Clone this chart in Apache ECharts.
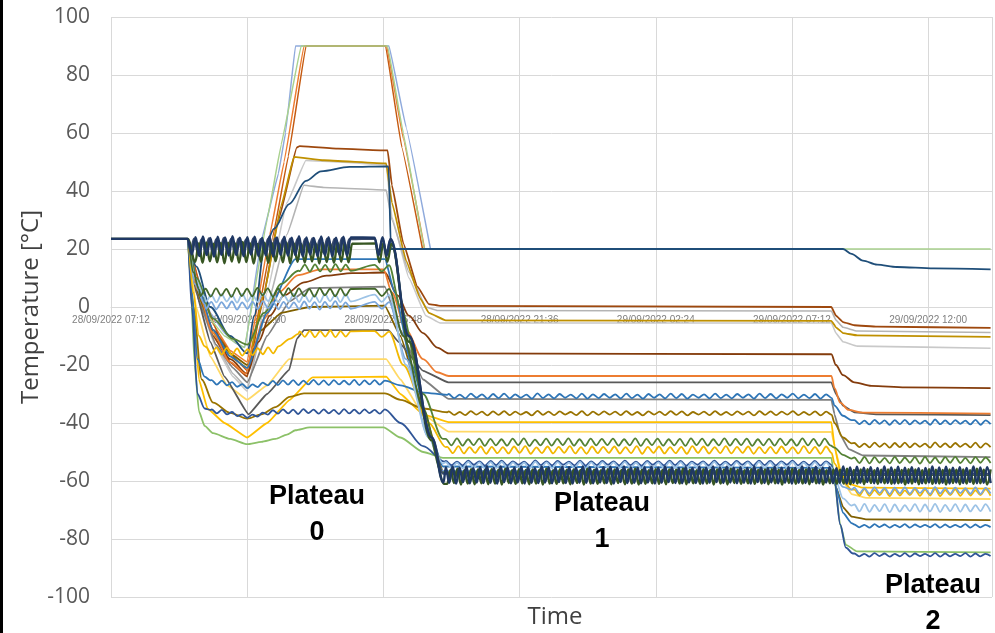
<!DOCTYPE html>
<html><head><meta charset="utf-8">
<script src="https://cdn.jsdelivr.net/npm/echarts/dist/echarts.min.js"></script>
<style>html,body{margin:0;padding:0;background:#fff}#c{width:995px;height:633px}</style>
</head><body><div id="c"></div>
<script>
// ---- axis labels ----
const xTickLabels = ['28/09/2022 07:12','28/09/2022 12:00','28/09/2022 16:48','28/09/2022 21:36','29/09/2022 02:24','29/09/2022 07:12','29/09/2022 12:00'];
const tickStepHours = 4.8;
const xAxisTitle = 'Time';
const yAxisTitle = 'Temperature [°C]';
const plateauLabels = ['Plateau\n0','Plateau\n1','Plateau\n2'];

// ---- oscillation / wiggle value lists (typed readings) ----
const navyOscP0a = [18.2,24.1,17.6,24.3,17.9,23.8,17.4,24.2,18.0,24.0,17.7,24.4,17.9,23.9,17.5,24.1,18.1,24.2,17.6,23.8,17.8,24.3,17.4,24.0,18.0,24.2,17.7,23.9,17.9,24.4,17.5,24.0,18.1,23.8,17.6,24.3,17.8,24.1,17.5,23.9,18.0,24.2,17.7,24.0];
const navyOscP0b = [23.9,17.8,24.1,17.6,23.5];
const navyOscP12 = [
-55.3,-60.6,-55.0,-60.9,-55.4,-60.4,-55.1,-60.8,-55.6,-60.5,
-55.2,-60.7,-54.9,-60.6,-55.5,-60.9,-55.0,-60.4,-55.3,-60.8,
-55.4,-60.5,-55.1,-60.9,-55.2,-60.6,-55.6,-60.7,-55.0,-60.5,
-55.3,-60.8,-55.5,-60.4,-55.1,-60.7,-55.2,-60.9,-55.4,-60.6,
-55.0,-60.6,-55.3,-60.8,-55.6,-60.5,-55.2,-60.7,-55.1,-60.9,
-55.4,-60.4,-55.0,-60.7,-55.3,-60.6,-55.5,-60.8,-55.2,-60.5,
-55.1,-60.9,-55.4,-60.6,-55.0,-60.4,-55.3,-60.7,-55.6,-60.8,
-55.2,-60.5,-55.5,-60.7,-55.1,-60.9,-55.4,-60.6,-55.0,-60.4,
-55.3,-60.7,-55.1,-60.5,-55.4,-60.8,-55.2,-60.6,-55.5,-60.9,
-55.0,-60.4,-55.3,-60.7,-55.6,-60.5,-55.1,-60.8,-55.4,-60.6,
-55.2,-60.9,-55.5,-60.6,-55.0,-60.7,-55.3,-60.4,-55.1,-60.8,
-55.4,-60.5,-55.2,-60.8,-55.6,-60.6,-55.0,-60.9,-55.3,-60.7,
-55.1,-60.6,-55.4,-60.4,-55.2,-60.8,-55.5,-60.5,-55.0,-60.7,
-55.3,-60.9,-55.1,-60.6,-55.4,-60.7,-55.2,-60.4,-55.6,-60.8,
-55.5,-60.5,-55.0,-60.8,-55.3,-60.6,-55.1,-60.9,-55.4,-60.5,
-55.2,-60.7,-55.5,-60.4,-55.0,-60.8,-55.3,-60.6,-55.2,-60.7];
const dgOscP0a = [15.6,22.0,15.2,22.3,15.8,21.8,15.4,22.1,15.1,22.2,15.7,21.9,15.3,22.4,15.5,22.0,15.0,21.7,15.6,22.2,15.2,22.1,15.8,21.9,15.4,22.3,15.1,22.0,15.6,21.8,15.3,22.2,15.7,22.0,15.0,22.1,15.5,21.9,15.2,22.3,15.6,22.0,15.4,21.8];
const dgOscP0b = [21.9,15.4,22.1,15.6,21.7];
const dgOscP12 = [
-61.0,-56.1,-60.7,-55.8,-61.2,-56.3,-60.9,-55.9,-61.1,-56.0,
-60.8,-56.2,-61.1,-55.9,-60.9,-56.1,-61.2,-55.8,-60.7,-56.3,
-61.0,-55.9,-60.8,-56.2,-61.1,-56.0,-60.9,-56.1,-61.2,-55.8,
-60.9,-56.3,-61.0,-55.9,-60.8,-56.1,-61.1,-56.0,-60.7,-56.2,
-61.2,-55.8,-60.9,-56.1,-61.0,-56.3,-60.8,-55.9,-61.1,-56.0,
-60.7,-56.2,-61.1,-56.0,-60.9,-55.8,-61.2,-56.1,-61.0,-56.3,
-60.8,-55.9,-61.0,-56.2,-61.1,-56.0,-60.7,-56.1,-60.9,-55.8,
-61.1,-56.1,-60.8,-56.3,-61.0,-55.9,-60.9,-56.2,-61.2,-56.0,
-60.9,-56.0,-61.2,-55.8,-60.7,-56.1,-61.0,-56.3,-60.8,-55.9,
-61.0,-56.2,-60.9,-56.0,-61.1,-55.9,-60.8,-56.1,-61.2,-56.3,
-60.7,-55.8,-61.0,-56.2,-60.9,-56.0,-61.1,-55.9,-60.8,-56.1,
-61.2,-56.3,-60.8,-56.0,-61.0,-56.1,-60.9,-55.8,-61.1,-56.2,
-60.9,-56.0,-61.1,-55.9,-60.7,-56.3,-61.0,-56.1,-60.8,-56.0,
-61.0,-56.1,-60.8,-56.2,-61.2,-55.9,-60.9,-56.0,-61.1,-56.3,
-60.8,-55.9,-61.0,-56.1,-60.9,-56.2,-61.2,-56.0,-60.7,-56.1,
-61.1,-56.0,-60.9,-56.3,-61.0,-55.8,-60.8,-56.1,-61.2,-56.0];
const slateOscP0a = [19.2,23.6,18.8,23.3,19.4,23.7,19.0,23.4,18.7,23.8,19.3,23.5,18.9,23.6,19.1,23.2,18.8,23.7,19.4,23.4,19.0,23.5,18.7,23.8,19.2,23.3,18.9,23.6,19.3,23.5,18.8,23.4,19.1,23.7,19.0,23.3,18.7,23.6,19.4,23.5,18.9,23.8,19.2,23.4];
const slateOscP0b = [23.6,19.1,23.4,18.9,23.2];

const greenWavyP0a = [12.4,14.6,12.2,14.7,12.3,14.5,12.1,14.8,12.3,14.6,12.5];
const greenWavyP0b = [14.5,12.3,14.4];
const greenWavyP1 = [
-45.5,-47.7,-45.3,-47.8,-45.6,-47.6,-45.4,-47.9,-45.5,-47.7,
-45.6,-47.8,-45.4,-47.6,-45.3,-47.9,-45.7,-47.7,-45.4,-47.8,
-45.5,-47.6,-45.3,-47.8,-45.6,-47.9,-45.4,-47.7,-45.5,-47.6,
-45.4,-47.8,-45.6,-47.7,-45.3,-47.9,-45.5,-47.6,-45.4,-47.8,
-45.6,-47.7,-45.5,-47.9,-45.3,-47.6,-45.4,-47.8,-45.6,-47.7,
-45.3,-47.8,-45.5,-47.6,-45.4,-47.9,-45.6,-47.7,-45.5,-47.8,
-45.4,-47.6,-45.6,-47.8,-45.3,-47.7,-45.5,-47.9,-45.4,-47.7];
const greenWavyP2 = [-51.9,-53.8,-51.7,-53.9,-51.8,-53.7,-52.0,-53.9,-51.7,-53.8,-51.9,-53.7,-51.8,-54.0,-51.7,-53.8,-51.9,-53.9,-51.8,-53.7,-51.7,-53.8,-52.0,-53.9,-51.8,-53.7,-51.9,-53.8];

const goldWavyP0a1 = [-13.8,-16.2,-13.9,-16.4,-14.1,-16.5,-14.3,-16.8,-14.5,-16.6,-14.2,-16.3,-13.9,-16.0,-13.6];
const goldWavyP0a2 = [-8.4,-10.3,-8.2,-10.4,-8.3,-10.2,-8.1,-10.4,-8.3,-10.2,-8.4];
const goldWavyP0b = [-8.3,-10.3,-8.5];
const goldWavyP1 = [
-48.2,-50.4,-48.0,-50.5,-48.3,-50.3,-48.1,-50.6,-48.2,-50.4,
-48.3,-50.5,-48.1,-50.3,-48.0,-50.6,-48.4,-50.4,-48.1,-50.5,
-48.2,-50.3,-48.0,-50.5,-48.3,-50.6,-48.1,-50.4,-48.2,-50.3,
-48.1,-50.5,-48.3,-50.4,-48.0,-50.6,-48.2,-50.3,-48.1,-50.5,
-48.3,-50.4,-48.2,-50.6,-48.0,-50.3,-48.1,-50.5,-48.3,-50.4,
-48.0,-50.5,-48.2,-50.3,-48.1,-50.6,-48.3,-50.4,-48.2,-50.5,
-48.1,-50.3,-48.3,-50.5,-48.0,-50.4,-48.2,-50.6,-48.1,-50.4];
const goldWavyP2 = [-63.0,-65.0,-62.8,-65.1,-63.1,-64.9,-62.9,-65.2,-63.0,-65.0,-63.2,-64.9,-62.9,-65.1,-63.0,-65.0,-62.8,-65.2,-63.1,-64.9,-62.9,-65.1,-63.0,-65.0,-63.2,-64.9,-62.9,-65.1];

const lb3P0a = [1.8,4.3,1.6,4.4,1.9,4.2,1.5,4.5,1.8,4.3,1.7,4.6,2.0,4.4,1.6,4.3,1.9,4.5,1.7,4.4,1.8,4.2,1.6,4.5,2.0,4.3,1.7,4.4,1.9];
const lb3P0b = [4.3,1.8,4.2];
const lb3P1 = [
-53.5,-55.5,-53.7,-55.6,-53.4,-55.4,-53.6,-55.7,-53.5,-55.5,
-53.4,-55.6,-53.6,-55.4,-53.7,-55.7,-53.3,-55.5,-53.6,-55.6,
-53.5,-55.4,-53.7,-55.6,-53.4,-55.7,-53.6,-55.5,-53.5,-55.4,
-53.6,-55.6,-53.4,-55.5,-53.7,-55.7,-53.5,-55.4,-53.6,-55.6,
-53.4,-55.5,-53.5,-55.7,-53.7,-55.4,-53.6,-55.6,-53.4,-55.5,
-53.7,-55.6,-53.5,-55.4,-53.6,-55.7,-53.4,-55.5,-53.5,-55.6,
-53.6,-55.4,-53.4,-55.6,-53.7,-55.5,-53.5,-55.7,-53.6,-55.5];
const lb3P2 = [-68.1,-70.5,-67.9,-70.6,-68.2,-70.4,-68.0,-70.7,-68.1,-70.5,-68.3,-70.4,-68.0,-70.6,-68.1,-70.5,-67.9,-70.7,-68.2,-70.4,-68.0,-70.6,-68.1,-70.5,-68.3,-70.4,-68.0,-70.6];

const lb1P0a = [-0.6,1.8,-0.8,1.7,-0.5,1.9,-0.9,1.6,-0.6,1.8,-0.7,2.0,-0.4,1.7,-0.8,1.8,-0.5,1.6,-0.7,1.9,-0.6,1.7,-0.9,1.8,-0.5,2.0,-0.7,1.6,-0.6];
const lb1P0b = [1.8,-0.6,1.7];
const lb1P2 = [-62.3,-64.3,-62.5,-64.4,-62.2,-64.2,-62.4,-64.5,-62.3,-64.3,-62.2,-64.4,-62.4,-64.2,-62.5,-64.5,-62.1,-64.3,-62.4,-64.4,-62.3,-64.2,-62.5,-64.4,-62.2,-64.5,-62.4,-64.3];

const dgWavyP0a = [3.8,6.3,3.6,6.4,3.9,6.2,3.5,6.5,3.8,6.3,3.7,6.6,4.0,6.4,3.6,6.3,3.9,6.5,3.7,6.4,3.8,6.2,3.6,6.5,4.0,6.3,3.7,6.4,3.9,6.2];
const dgWavyP0b = [6.3,3.8,6.2];

const blueWavyP0 = [-25.2,-26.8,-25.4,-27.0,-25.9,-27.5,-26.6,-28.0,-26.7,-27.6,-26.1,-27.0,-25.5,-26.9,-25.3,-26.8,-25.2,-26.9,-25.4,-26.7,-25.1,-26.8,-25.3,-26.9,-25.2,-26.7,-25.4,-26.8,-25.1,-26.9,-25.3,-26.7,-25.2,-26.8,-25.4];
const blueWavyP1 = [
-30.0,-31.4,-30.2,-31.5,-29.9,-31.3,-30.1,-31.6,-30.0,-31.4,
-29.9,-31.5,-30.1,-31.3,-30.2,-31.6,-29.8,-31.4,-30.1,-31.5,
-30.0,-31.3,-30.2,-31.5,-29.9,-31.6,-30.1,-31.4,-30.0,-31.3,
-30.1,-31.5,-29.9,-31.4,-30.2,-31.6,-30.0,-31.3,-30.1,-31.5,
-29.9,-31.4,-30.0,-31.6,-30.2,-31.3,-30.1,-31.5,-29.9,-31.4,
-30.2,-31.5,-30.0,-31.3,-30.1,-31.6,-29.9,-31.4,-30.0,-31.5,
-30.1,-31.3,-29.9,-31.5,-30.2,-31.4,-30.0,-31.6,-30.1,-31.4];
const blueWavyP2 = [-39.0,-40.4,-39.2,-40.5,-38.9,-40.3,-39.1,-40.6,-39.0,-40.4,-38.9,-40.5,-39.1,-40.3,-39.2,-40.6,-38.8,-40.4,-39.1,-40.5,-39.0,-40.3,-39.2,-40.5,-38.9,-40.6,-39.1,-40.4];

const oliveWavyP1 = [
-36.0,-37.2,-36.2,-37.3,-35.9,-37.1,-36.1,-37.4,-36.0,-37.2,
-35.9,-37.3,-36.1,-37.1,-36.2,-37.4,-35.8,-37.2,-36.1,-37.3,
-36.0,-37.1,-36.2,-37.3,-35.9,-37.4,-36.1,-37.2,-36.0,-37.1,
-36.1,-37.3,-35.9,-37.2,-36.2,-37.4,-36.0,-37.1,-36.1,-37.3,
-35.9,-37.2,-36.0,-37.4,-36.2,-37.1,-36.1,-37.3,-35.9,-37.2,
-36.2,-37.3,-36.0,-37.1,-36.1,-37.4,-35.9,-37.2,-36.0,-37.3,
-36.1,-37.1,-35.9,-37.3,-36.2,-37.2,-36.0,-37.4,-36.1,-37.2];
const oliveWavyP2 = [-46.9,-48.3,-47.1,-48.4,-46.8,-48.2,-47.0,-48.5,-46.9,-48.3,-46.8,-48.4,-47.0,-48.2,-47.1,-48.5,-46.7,-48.3,-47.0,-48.4,-46.9,-48.2,-47.1,-48.4,-46.8,-48.5,-47.0,-48.3];

const navyWavyP0 = [-35.3,-36.7,-35.5,-37.0,-36.2,-37.6,-37.0,-38.2,-37.1,-37.8,-36.4,-37.1,-35.6,-36.8,-35.3,-36.7,-35.4,-36.9,-35.2,-36.6,-35.4,-36.8,-35.3,-36.7,-35.5,-36.9,-35.2,-36.7,-35.4,-36.8,-35.3,-36.6,-35.5,-36.8,-35.3];
const navyWavyP1 = [
-53.1,-54.5,-53.3,-54.6,-53.0,-54.4,-53.2,-54.7,-53.1,-54.5,
-53.0,-54.6,-53.2,-54.4,-53.3,-54.7,-52.9,-54.5,-53.2,-54.6,
-53.1,-54.4,-53.3,-54.6,-53.0,-54.7,-53.2,-54.5,-53.1,-54.4,
-53.2,-54.6,-53.0,-54.5,-53.3,-54.7,-53.1,-54.4,-53.2,-54.6,
-53.0,-54.5,-53.1,-54.7,-53.3,-54.4,-53.2,-54.6,-53.0,-54.5,
-53.3,-54.6,-53.1,-54.4,-53.2,-54.7,-53.0,-54.5,-53.1,-54.6,
-53.2,-54.4,-53.0,-54.6,-53.3,-54.5,-53.1,-54.7,-53.2,-54.5];
const navyWavyP2 = [-85.0,-86.0,-85.1,-86.1,-84.9,-85.9,-85.0,-86.1,-85.1,-86.0,-84.9,-86.1,-85.0,-85.9,-85.1,-86.0,-84.9,-86.1,-85.0,-86.0,-85.1,-85.9,-84.9,-86.1,-85.0,-86.0,-85.1,-85.9];
const blueFlatP2 = [-75.0,-76.0,-75.1,-76.1,-74.9,-75.9,-75.0,-76.1,-75.1,-76.0,-74.9,-76.1,-75.0,-75.9,-75.1,-76.0,-74.9,-76.1,-75.0,-76.0,-75.1,-75.9,-74.9,-76.1,-75.0,-76.0,-75.1,-75.9];

// segment marker: readings spread over [t0,t1] hours
function W(t0, t1, vals) { return { t0: t0, t1: t1, vals: vals }; }

// ---- series: [hours since 28/09 07:12, °C] ----
const sLightGray50 = [[0,23.5],[2.7,23.5],[3.1,2],[3.7,-14],[4.3,-24],[4.8,-29],[5.5,5],[6.2,36],[6.87,50.5],[8,50],[9.7,49],[9.9,31],[10.5,10],[11.1,-3],[11.6,-5.5],[25.39,-5.5],[25.55,-9],[25.8,-12],[26.3,-13.5],[31,-14.2]];
const sGray41 = [[0,23.5],[2.7,23.5],[3.1,3],[3.7,-13],[4.3,-23],[4.8,-28],[5.5,0],[6.2,25],[6.8,42],[7.5,41.2],[9.7,40.3],[9.9,30],[10.5,12],[11.1,0],[11.5,-1.2],[25.39,-1.4],[25.55,-4.5],[25.8,-7],[26.3,-8.3],[31,-8.8]];
const sLightBlue90 = [[0,23.5],[2.7,23.5],[3.0,12],[3.5,-2],[4.0,-9],[4.4,-12.5],[4.72,-14],[5.3,23],[5.9,46],[6.15,60],[6.5,90],[9.8,90],[10.4,62],[11.26,20]];
const sOrange90 = [[0,23.5],[2.7,23.5],[3.1,8],[3.6,-6],[4.2,-15],[4.8,-19],[5.6,25],[6.1,50],[6.8,90],[9.72,90],[10.3,58],[11.05,20]];
const sDarkOrange90 = [[0,23.5],[2.7,23.5],[3.2,5],[3.8,-10],[4.3,-17],[4.8,-22],[5.7,24],[6.25,52],[6.87,90],[9.68,90],[10.25,55],[10.98,20]];
const sLightGreen90 = [[0,23.5],[2.7,23.5],[3.0,10],[3.4,-3],[4.0,-10],[4.7,-14],[5.5,30],[6.0,56],[6.7,90],[9.75,90],[10.3,60],[11.05,20],[31,20]];
const sBrown55 = [[0,23.5],[2.7,23.5],[3.1,4],[3.6,-10],[4.2,-19],[4.8,-24],[5.3,0],[5.9,30],[6.55,55],[6.65,55.5],[8.0,54.6],[9.75,54],[9.9,42],[10.3,22],[10.8,7],[11.2,1],[11.6,0.4],[25.39,0],[25.55,-3],[25.8,-5.2],[26.2,-6.3],[27,-6.8],[31,-7.2]];
const sGold52 = [[0,23.5],[2.7,23.5],[3.0,6],[3.6,-9],[4.2,-17],[4.8,-21],[5.4,5],[6.0,35],[6.45,51.8],[7.5,50.6],[9.7,49.5],[9.9,36],[10.4,16],[10.9,3],[11.2,-2],[11.8,-4.6],[25.39,-4.8],[25.55,-7],[25.8,-9],[26.3,-9.8],[31,-10.3]];
const sNavy48 = [[0,23.5],[2.7,23.5],[3.0,14],[3.5,0],[4.2,-10],[4.8,-16],[5.05,-3],[5.4,20],[5.75,27],[6.28,35.5],[6.87,43.5],[7.4,46.8],[8.4,48.3],[9.78,48.5],[9.87,20],[25.8,20],[26.1,18.3],[26.5,16],[27,14.6],[27.7,13.8],[29,13.3],[31,13]];
const sDarkGray7 = [[0,23.5],[2.7,23.5],[3.1,2],[3.7,-13],[4.3,-21],[4.8,-26],[5.5,-10],[6.3,2],[7.0,6.5],[9.65,7],[10.2,-8],[11.0,-25],[11.9,-31.7],[25.39,-32],[25.5,-37],[25.7,-44],[26.0,-49],[26.5,-51.2],[31,-51.8]];
const sOlive0 = [[0,23.5],[2.7,23.5],[3.0,6],[3.6,-8],[4.2,-16],[4.8,-20],[5.3,-8],[6.0,-2],[7.0,0],[9.65,0.5],[10.2,-10],[11.0,-35],[11.7,-56.5],[25.4,-57],[25.55,-62],[25.8,-69],[26.1,-72.3],[26.6,-73.2],[31,-73.5]];
const sLightYellow = [[0,23.5],[2.7,23.5],[3.0,0],[3.5,-17],[4.1,-27],[4.8,-32],[5.5,-27],[6.28,-18],[9.7,-18],[10.2,-25],[11.0,-37],[11.9,-43],[25.39,-43.1],[25.55,-50],[25.8,-60],[26.1,-64.5],[26.6,-65.8],[31,-66.2]];
const sYellow24 = [[0,23.5],[2.7,23.5],[2.85,5],[3.1,-25],[3.4,-35],[4.0,-40],[4.8,-45],[5.5,-40],[6.3,-32],[7.1,-24.3],[9.7,-24],[10.2,-30],[11.0,-37],[11.9,-39.7],[25.39,-39.7],[25.5,-48],[25.7,-57],[26.0,-61],[26.5,-62.3],[31,-62.6]];
const sDarkGrayM8 = [[0,23.5],[2.7,23.5],[3.0,5],[3.5,-12],[4.0,-24],[4.85,-37],[5.5,-30],[6.28,-21.7],[6.55,-11],[6.8,-8],[9.78,-8],[10.13,-12],[11.0,-22],[11.89,-26],[25.39,-26],[25.55,-30],[25.8,-34],[26.2,-36.3],[27,-37],[31,-37.3]];
const sBrownCurve = [[0,23.5],[2.7,23.5],[3.0,8],[3.6,-8],[4.2,-18],[4.8,-23],[5.2,-12],[5.6,-3],[6.1,4],[6.8,8.5],[7.6,10.8],[8.5,11.7],[9.65,11.9],[10.1,4],[10.5,-3],[11.0,-9],[11.5,-14],[11.9,-16],[25.39,-16.3],[25.55,-20],[25.8,-23.5],[26.2,-26],[26.8,-27.2],[28,-27.7],[31,-28]];
const sOrangeCurve = [[0,23.5],[2.7,23.5],[3.05,6],[3.6,-9],[4.2,-19],[4.75,-23],[5.0,-14],[5.4,-4],[5.9,5],[6.6,11],[7.4,13],[9.6,13],[9.9,5],[10.4,-8],[11.0,-18],[11.5,-22.5],[11.9,-23.8],[25.39,-23.8],[25.5,-28],[25.7,-33],[26.0,-35.5],[26.5,-36.4],[31,-36.8]];
const sBlueFlat17 = [[0,23.5],[2.7,23.5],[3.05,8],[3.6,-8],[4.2,-17],[4.8,-21],[5.5,-2],[6.5,16.5],[9.65,16.5],[10.0,5],[10.6,-20],[11.3,-45],[11.7,-55],[25.4,-55.5],[25.55,-62],[25.8,-71],[26.1,-74.5],W(26.2,31,blueFlatP2)];
const sLightGreen41 = [[0,23.5],[2.7,23.5],[2.8,10],[2.95,-20],[3.1,-36],[3.3,-41],[3.6,-43.5],[4.2,-45.5],[4.8,-47.3],[5.3,-46.5],[5.8,-45.5],[6.2,-44],[6.5,-42.5],[7.0,-41.5],[9.6,-41.5],[10.2,-45],[11.0,-50],[11.7,-52],[25.39,-52],[25.5,-60],[25.7,-75],[25.9,-82],[26.3,-84.3],[31,-84.6]];
const sOlive30 = [[0,23.5],[2.7,23.5],[2.9,0],[3.2,-25],[3.6,-33],[4.2,-36.5],[4.8,-38.5],[5.3,-37],[5.8,-34.5],[6.3,-31],[6.8,-29.8],[9.65,-29.8],[10.2,-32],[11.0,-35],[11.85,-36.3],W(11.9,25.4,oliveWavyP1),[25.5,-40],[25.8,-45],[26.1,-47],W(26.2,31,oliveWavyP2)];
const sBlueWavy26 = [[0,23.5],[2.7,23.5],[2.85,5],[3.05,-18],[3.3,-24],[3.5,-25.3],W(3.55,9.65,blueWavyP0),[10.2,-27],[11.0,-29.5],[11.85,-30.3],W(11.9,25.4,blueWavyP1),[25.5,-34],[25.8,-37.5],[26.1,-39],W(26.2,31,blueWavyP2)];
const sNavyWavy36 = [[0,23.5],[2.7,23.5],[2.85,0],[3.05,-30],[3.3,-35],[3.5,-35.5],W(3.55,9.65,navyWavyP0),[10.2,-40],[11.0,-48],[11.75,-53.3],W(11.8,25.4,navyWavyP1),[25.5,-60],[25.7,-75],[25.9,-83],[26.15,-85],W(26.2,31,navyWavyP2)];
const sGoldWavy = [[0,23.5],[2.7,23.5],[2.9,5],[3.1,-10],[3.3,-13.5],W(3.35,5.9,goldWavyP0a1),[6.3,-11],[6.6,-9.3],W(6.65,8.45,goldWavyP0a2),W(9.29,9.8,goldWavyP0b),[10.3,-20],[11.2,-40],[11.8,-48.3],W(11.85,25.4,goldWavyP1),[25.5,-54],[25.8,-60],[26.1,-63],W(26.2,31,goldWavyP2)];
const sGreenWavy13 = [[0,23.5],[2.7,23.5],[3.0,10],[3.6,-4],[4.3,-11],[4.8,-13],[5.4,-2],[6.0,8],[6.6,12.5],W(6.65,8.45,greenWavyP0a),W(9.29,9.8,greenWavyP0b),[10.2,0],[11.0,-30],[11.7,-45.5],W(11.8,25.35,greenWavyP1),[25.5,-48.5],[25.8,-51],[26.1,-52.3],W(26.2,31,greenWavyP2)];
const sLightBlueWavy1 = [[0,23.5],[2.7,23.5],[2.95,8],[3.3,1],W(3.35,8.45,lb1P0a),W(9.29,9.8,lb1P0b),[10.4,-18],[11.2,-45],[11.7,-56.5],[25.4,-56.5],[25.55,-59],[25.8,-62],[26.1,-63],W(26.2,31,lb1P2)];
const sLightBlueWavy3 = [[0,23.5],[2.7,23.5],[2.95,10],[3.3,3.5],W(3.35,8.45,lb3P0a),W(9.29,9.8,lb3P0b),[10.4,-20],[11.2,-45],[11.7,-54],W(11.8,25.4,lb3P1),[25.55,-60],[25.8,-66],[26.1,-68.5],W(26.2,31,lb3P2)];
const sDarkGreenWavy5 = [[0,23.5],[2.7,23.5],[2.9,12],[3.1,6],W(3.15,8.45,dgWavyP0a),W(9.29,9.8,dgWavyP0b),[10.3,-10],[11.0,-35],[11.65,-57],[25.4,-57],[25.6,-58],[31,-58]];
const sSlateOsc = [[0,23.5],[2.7,23.5],W(2.8,8.4,slateOscP0a),W(9.29,9.85,slateOscP0b),[10.5,-10],[11.3,-45],[11.72,-57.5],[31,-57.5]];
const sDarkGreenOsc = [[0,23.5],[2.7,23.5],W(2.97,8.5,dgOscP0a),W(9.32,9.88,dgOscP0b),[10.5,-12],[11.3,-46],[11.75,-61],W(11.85,31,dgOscP12)];
const sNavyOsc = [[0,23.5],[2.7,23.5],W(2.85,8.45,navyOscP0a),W(9.29,9.85,navyOscP0b),[10.5,-10],[11.3,-45],[11.72,-60.5],W(11.8,31,navyOscP12)];

// ---- drawing styles (bottom to top) ----
const seriesDefs = [
  ['lightGray50', sLightGray50, '#C9C9C9', 1.6, 0.1],
  ['gray41', sGray41, '#B4B4B4', 1.6, 0.1],
  ['lightBlue90', sLightBlue90, '#8FAADC', 1.5, 0.05],
  ['orange90', sOrange90, '#ED7D31', 1.5, 0.05],
  ['darkOrange90', sDarkOrange90, '#C55A11', 1.5, 0.05],
  ['lightGreen90', sLightGreen90, '#A9D18E', 1.5, 0.05],
  ['brown55', sBrown55, '#9E480E', 1.8, 0.1],
  ['gold52', sGold52, '#BF9000', 1.8, 0.1],
  ['navy48', sNavy48, '#1F4E79', 1.8, 0.3],
  ['darkGray7', sDarkGray7, '#7F7F7F', 1.8, 0.1],
  ['olive0', sOlive0, '#806000', 1.8, 0.1],
  ['lightYellow', sLightYellow, '#FFD966', 1.8, 0.1],
  ['yellow24', sYellow24, '#FFC000', 1.8, 0.1],
  ['darkGrayM8', sDarkGrayM8, '#595959', 1.8, 0.1],
  ['brownCurve', sBrownCurve, '#843C0C', 1.8, 0.3],
  ['orangeCurve', sOrangeCurve, '#ED7D31', 1.8, 0.3],
  ['blueFlat17', sBlueFlat17, '#2E75B6', 1.8, 0.2],
  ['lightGreen41', sLightGreen41, '#8CC168', 1.8, 0.2],
  ['olive30', sOlive30, '#997300', 1.8, 0.3],
  ['blueWavy26', sBlueWavy26, '#2E75B6', 1.8, 0.3],
  ['navyWavy36', sNavyWavy36, '#2F5597', 1.8, 0.3],
  ['goldWavy', sGoldWavy, '#F2B800', 1.8, 0.3],
  ['greenWavy13', sGreenWavy13, '#548235', 1.8, 0.3],
  ['lightBlueWavy1', sLightBlueWavy1, '#7BA7DB', 1.8, 0.3],
  ['lightBlueWavy3', sLightBlueWavy3, '#9DC3E6', 1.8, 0.3],
  ['darkGreenWavy5', sDarkGreenWavy5, '#43682B', 1.8, 0.3],
  ['slateOsc', sSlateOsc, '#3B4A6B', 2.2, 0.4],
  ['darkGreenOsc', sDarkGreenOsc, '#375623', 2.4, 0.4],
  ['navyOsc', sNavyOsc, '#1F3864', 2.4, 0.4]
];

function build(parts) {
  const out = [];
  parts.forEach(function (p) {
    if (Array.isArray(p)) { out.push(p); return; }
    const n = p.vals.length;
    p.vals.forEach(function (v, i) { out.push([p.t0 + (p.t1 - p.t0) * i / (n - 1), v]); });
  });
  return out;
}

const chart = echarts.init(document.getElementById('c'), null, { renderer: 'canvas' });
chart.setOption({
  animation: false,
  backgroundColor: '#ffffff',
  grid: { left: 111, right: -2, top: 17, bottom: 36 },
  xAxis: {
    type: 'value', min: 0, max: 31.05, interval: tickStepHours, position: 'bottom', offset: -290,
    axisLine: { show: true, onZero: false, lineStyle: { color: '#D9D9D9', width: 1 } },
    axisTick: { show: false },
    splitLine: { show: true, lineStyle: { color: '#D9D9D9', width: 1 } },
    axisLabel: {
      color: '#7F7F7F', fontSize: 10, fontFamily: 'Liberation Sans', margin: 8, hideOverlap: false,
      formatter: function (v) {
        const i = Math.round(v / tickStepHours);
        return Math.abs(v - i * tickStepHours) < 1e-6 ? (xTickLabels[i] || '') : '';
      }
    }
  },
  yAxis: {
    type: 'value', min: -100, max: 100, interval: 20,
    axisLine: { show: false, onZero: false }, axisTick: { show: false },
    splitLine: { show: true, lineStyle: { color: '#D9D9D9', width: 1 } },
    axisLabel: { color: '#595959', fontSize: 21, fontFamily: 'Open Sans', margin: 21 }
  },
  series: seriesDefs.map(function (d) {
    return {
      name: d[0], type: 'line', data: build(d[1]), showSymbol: false, symbol: 'none',
      smooth: d[4], smoothMonotone: 'x', clip: true,
      lineStyle: { color: d[2], width: d[3] }, itemStyle: { color: d[2] },
      emphasis: { disabled: true }, z: 2
    };
  }),
  graphic: [
    { type: 'rect', left: 0, top: 0, shape: { width: 3, height: 633 }, style: { fill: '#000' }, z: 100 },
    { type: 'text', x: 31, y: 307, rotation: Math.PI / 2, z: 100,
      style: { text: yAxisTitle, font: '24px "Open Sans"', fill: '#404040', textAlign: 'center', textVerticalAlign: 'middle' } },
    { type: 'text', x: 555, y: 617, z: 100,
      style: { text: xAxisTitle, font: '24px "Open Sans"', fill: '#404040', textAlign: 'center', textVerticalAlign: 'middle' } },
    { type: 'text', x: 317, y: 515, z: 100,
      style: { text: plateauLabels[0], font: 'bold 27px "Liberation Sans"', lineHeight: 36, fill: '#000', textAlign: 'center', textVerticalAlign: 'middle' } },
    { type: 'text', x: 602, y: 522, z: 100,
      style: { text: plateauLabels[1], font: 'bold 27px "Liberation Sans"', lineHeight: 36, fill: '#000', textAlign: 'center', textVerticalAlign: 'middle' } },
    { type: 'text', x: 933, y: 604, z: 100,
      style: { text: plateauLabels[2], font: 'bold 27px "Liberation Sans"', lineHeight: 36, fill: '#000', textAlign: 'center', textVerticalAlign: 'middle' } }
  ]
});
</script>
</body></html>
